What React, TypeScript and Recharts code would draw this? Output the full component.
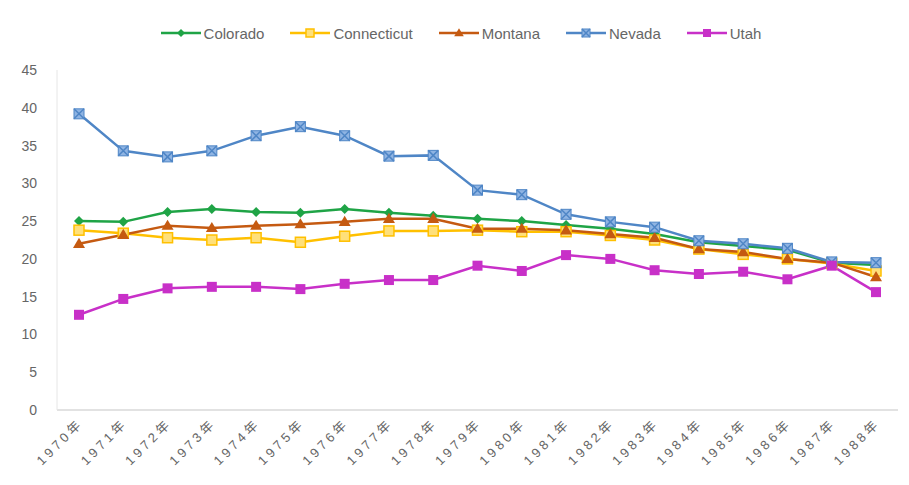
import React from "react";
import {
  LineChart,
  Line,
  XAxis,
  YAxis,
  Legend,
} from "recharts";

const years = [
  "1970年", "1971年", "1972年", "1973年", "1974年", "1975年", "1976年",
  "1977年", "1978年", "1979年", "1980年", "1981年", "1982年", "1983年",
  "1984年", "1985年", "1986年", "1987年", "1988年",
];

const colorado = [
  25.0, 24.9, 26.2, 26.6, 26.2, 26.1, 26.6, 26.1, 25.7, 25.3, 25.0, 24.5,
  24.0, 23.3, 22.2, 21.7, 21.2, 19.5, 19.2,
];
const connecticut = [
  23.8, 23.4, 22.8, 22.5, 22.8, 22.2, 23.0, 23.7, 23.7, 23.8, 23.6, 23.6,
  23.1, 22.5, 21.3, 20.6, 20.0, 19.4, 18.4,
];
const montana = [
  22.0, 23.2, 24.4, 24.1, 24.4, 24.6, 24.9, 25.3, 25.3, 24.0, 24.0, 23.8,
  23.3, 22.8, 21.3, 20.9, 20.0, 19.5, 17.6,
];
const nevada = [
  39.2, 34.3, 33.5, 34.3, 36.3, 37.5, 36.3, 33.6, 33.7, 29.1, 28.5, 25.9,
  24.9, 24.2, 22.4, 22.0, 21.4, 19.6, 19.5,
];
const utah = [
  12.6, 14.7, 16.1, 16.3, 16.3, 16.0, 16.7, 17.2, 17.2, 19.1, 18.4, 20.5,
  20.0, 18.5, 18.0, 18.3, 17.3, 19.1, 15.6,
];

const yTicks = [0, 5, 10, 15, 20, 25, 30, 35, 40, 45];

const data = years.map((year, i) => ({
  year,
  Colorado: colorado[i],
  Connecticut: connecticut[i],
  Montana: montana[i],
  Nevada: nevada[i],
  Utah: utah[i],
}));

type Shape = "diamond" | "square" | "triangle" | "xsquare" | "fsquare";

const series: { key: string; color: string; shape: Shape }[] = [
  { key: "Colorado", color: "#1fa446", shape: "diamond" },
  { key: "Connecticut", color: "#ffc000", shape: "square" },
  { key: "Montana", color: "#c55a11", shape: "triangle" },
  { key: "Nevada", color: "#4f86c6", shape: "xsquare" },
  { key: "Utah", color: "#c830c8", shape: "fsquare" },
];

const FONT = "'Liberation Sans', 'Noto Sans CJK SC', sans-serif";

// draws one marker, centred at cx, cy; r is half its size
const Marker = ({ cx, cy, color, shape, r = 5 }: { cx: number; cy: number; color: string; shape: Shape; r?: number }) => {
  if (cx == null || cy == null) return null;
  if (shape === "diamond") {
    return (
      <path
        d={`M${cx},${cy - r}L${cx + r},${cy}L${cx},${cy + r}L${cx - r},${cy}Z`}
        fill={color}
      />
    );
  }
  if (shape === "triangle") {
    const t = r * 1.2;
    return (
      <path
        d={`M${cx},${cy - t}L${cx + t},${cy + t * 0.7}L${cx - t},${cy + t * 0.7}Z`}
        fill={color}
      />
    );
  }
  if (shape === "square") {
    return (
      <rect x={cx - r} y={cy - r} width={2 * r} height={2 * r} fill="#ffe07a" stroke={color} strokeWidth={1.5} />
    );
  }
  if (shape === "xsquare") {
    return (
      <g>
        <rect x={cx - r} y={cy - r} width={2 * r} height={2 * r} fill="#8fb4e3" stroke={color} strokeWidth={1} />
        <path d={`M${cx - r},${cy - r}L${cx + r},${cy + r}M${cx + r},${cy - r}L${cx - r},${cy + r}`} stroke={color} strokeWidth={1.5} />
      </g>
    );
  }
  return <rect x={cx - r} y={cy - r} width={2 * r} height={2 * r} fill={color} />;
};

const renderLegend = () => (
  <div
    style={{
      display: "flex",
      justifyContent: "center",
      gap: 26,
      height: 50,
      paddingTop: 4,
      boxSizing: "border-box",
      fontFamily: FONT,
      fontSize: 15,
      color: "#666",
      marginLeft: 24,
    }}
  >
    {series.map((s) => (
      <div key={s.key} style={{ display: "flex", alignItems: "center", height: 18 }}>
        <svg width={40} height={14} style={{ marginRight: 3 }}>
          <line x1={0} y1={7} x2={40} y2={7} stroke={s.color} strokeWidth={2.5} />
          <Marker cx={20} cy={7} color={s.color} shape={s.shape} r={4} />
        </svg>
        <span>{s.key}</span>
      </div>
    ))}
  </div>
);

const XTick = (props: any) => {
  const { x, y, payload } = props;
  return (
    <g transform={`translate(${x + 5},${y + 6})`}>
      <text
        textAnchor="end"
        transform="rotate(-45)"
        fontFamily={FONT}
        fontSize={13}
        letterSpacing={3.5}
        fill="#666"
      >
        {payload.value}
      </text>
    </g>
  );
};

export default function App() {
  return (
    <div style={{ position: "absolute", left: 0, top: 0, width: 909, height: 485, background: "#fff" }}>
      <LineChart
        width={909}
        height={485}
        data={data}
        margin={{ top: 20, right: 11, bottom: 5, left: 0 }}
      >
        <Legend verticalAlign="top" content={renderLegend} />
        <XAxis
          dataKey="year"
          interval={0}
          padding={{ left: 22, right: 22 }}
          tickLine={false}
          axisLine={{ stroke: "#d9d9d9", strokeWidth: 1.5 }}
          height={70}
          tick={<XTick />}
        />
        <YAxis
          domain={[0, 45]}
          ticks={yTicks}
          width={57}
          tickLine={false}
          axisLine={{ stroke: "#e6e6e6" }}
          tickMargin={14}
          tick={{ fill: "#666", fontSize: 14, fontFamily: FONT }}
        />
        {series.map((s) => (
          <Line
            key={s.key}
            type="linear"
            dataKey={s.key}
            stroke={s.color}
            strokeWidth={2.5}
            isAnimationActive={false}
            activeDot={false}
            dot={(p: any) => (
              <Marker key={`${s.key}-${p.index}`} cx={p.cx} cy={p.cy} color={s.color} shape={s.shape} />
            )}
          />
        ))}
      </LineChart>
    </div>
  );
}
